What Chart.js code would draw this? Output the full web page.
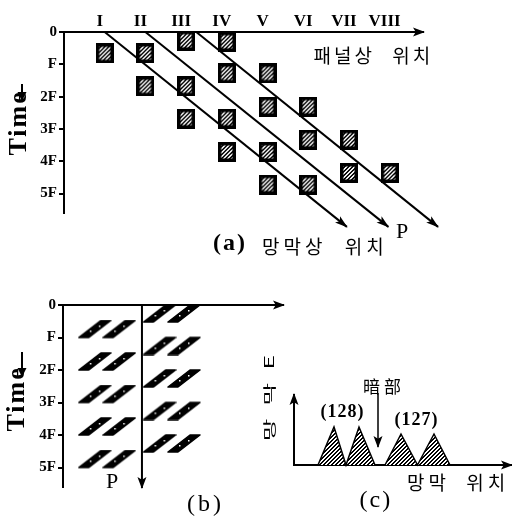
<!DOCTYPE html>
<html><head><meta charset="utf-8">
<script src="https://cdn.jsdelivr.net/npm/chart.js@4.4.0/dist/chart.umd.min.js"></script>
<style>
html,body{margin:0;padding:0;background:#fff;width:512px;height:521px;overflow:hidden;position:relative;}
canvas{position:absolute;}
svg{position:absolute;}
.t{position:absolute;white-space:nowrap;color:#000;line-height:1;}
</style></head><body>
<canvas id="ca" width="512" height="260" style="left:0;top:0"></canvas>
<canvas id="cb" width="300" height="251" style="left:0;top:270px"></canvas>
<canvas id="cc" width="262" height="191" style="left:250px;top:330px"></canvas>
<script>
// ---------- data ----------
const panelNames = ['I','II','III','IV','V','VI','VII','VIII'];
const panelPos = [1,2,3,4,5,6,7,8];
const frameNames = ['0','F','2F','3F','4F','5F'];
const framePos = [0,1,2,3,4,5];

// (a) lit cells: panel position / emission time (frames)
const cellPanel = [1, 2,2, 3,3,3, 4,4,4,4, 5,5,5,5, 6,6,6, 7,7, 8];
const cellTime  = [0.66, 0.65,1.68, 0.27,1.68,2.68, 0.30,1.28,2.68,3.71, 1.28,2.31,3.71,4.72, 2.31,3.33,4.72, 3.33,4.36, 4.36];

// (a) eye-tracking lines
const trackStartPanel = [1, 2, 3.25];
const trackStartTime  = [0, 0, 0];
const trackEndPanel   = [6.95, 7.97, 9.19];
const trackEndTime    = [6.03, 6.03, 6.03];

// (b) sub-field bars before / after retina point P
const beforePanel  = [1.3, 2.3];
const beforeFrames = [1,2,3,4,5];
const afterPanel   = [3.95, 4.95];
const afterFrames  = [0,1,2,3,4];
const retinaP      = 3.23;
const retinaPStart = 0;
const retinaPEnd   = 5.63;

// (c) retina luminance profile
const profilePos = [24, 40, 52, 65, 81, 91, 107, 123.5, 140, 156];
const profileVal = [0, 38, 0, 38, 0, 0, 31, 0, 31, 0];
const darkPos = [84, 84];
const darkVal = [72, 18];

// ---------- helpers ----------
function hatch(g){
  const c=document.createElement('canvas');c.width=4;c.height=4;
  const h=c.getContext('2d');
  h.fillStyle='#fff';h.fillRect(0,0,4,4);
  h.fillStyle='#000';
  for(let i=0;i<4;i++){h.fillRect(i,3-i,1,1);h.fillRect((i+1)%4,3-i,1,1);}
  return g.createPattern(c,'repeat');
}
function makeSquare(){
  const c=document.createElement('canvas');c.width=18;c.height=20;
  const g=c.getContext('2d');
  g.fillStyle='#000';g.fillRect(0,0,18,20);
  g.fillStyle=hatch(g);g.fillRect(3.5,3.5,11,13);
  return c;
}
function makeBar(upper){
  const c=document.createElement('canvas');c.width=34;c.height=36;
  const g=c.getContext('2d');
  const oy=upper?1:18;
  g.fillStyle='#000';g.strokeStyle='#000';g.lineWidth=1.5;g.lineJoin='round';
  g.beginPath();
  g.moveTo(1,oy+17);g.lineTo(11,oy+17);g.lineTo(33,oy);g.lineTo(23,oy);g.closePath();
  g.fill();g.stroke();
  g.fillStyle='#fff';
  g.fillRect(12,oy+10,1.5,1.5);g.fillRect(21,oy+5,1.5,1.5);
  return c;
}
function head(ctx,x0,y0,x1,y1,len,half,color){
  const ang=Math.atan2(y1-y0,x1-x0);
  ctx.save();ctx.translate(x1,y1);ctx.rotate(ang);
  ctx.beginPath();ctx.moveTo(1,0);ctx.lineTo(-len,-half);ctx.lineTo(-len*0.75,0);ctx.lineTo(-len,half);ctx.closePath();
  ctx.fillStyle=color||'#000';ctx.fill();ctx.restore();
}
const arrowPlugin={
  id:'arrows',
  afterDatasetsDraw(chart){
    const ctx=chart.ctx;
    chart.data.datasets.forEach((ds,i)=>{
      if(!ds.arrowHead)return;
      const pts=chart.getDatasetMeta(i).data;
      const a=pts[pts.length-2],b=pts[pts.length-1];
      head(ctx,a.x,a.y,b.x,b.y,ds.arrowHead.len,ds.arrowHead.half,'#000');
    });
  },
  afterDraw(chart,args,o){
    const a=chart.chartArea,ctx=chart.ctx;
    if(o.x){const y=o.x==='top'?a.top:a.bottom;head(ctx,a.right-10,y,a.right+1,y,11,4.5);}
    if(o.yUp){head(ctx,a.left,a.top+10,a.left,a.top-1,11,4.5);}
  }
};
const common={responsive:false,animation:false,events:[],devicePixelRatio:1};
const serif="'Liberation Serif','DejaVu Serif',serif";
Chart.defaults.color='#000';
Chart.defaults.font.family=serif;

function frameAxis(width){
  return {type:'linear',reverse:true,min:0,max:5.6,
    afterBuildTicks:s=>{s.ticks=framePos.map(v=>({value:v}));},
    afterFit:s=>{s.width=width;},
    ticks:{callback:v=>frameNames[framePos.indexOf(v)],font:{size:15,weight:'bold',family:serif},padding:2,autoSkip:false,color:'#000'},
    grid:{display:true,drawOnChartArea:false,drawTicks:true,tickLength:5,color:'#000',lineWidth:2},
    border:{display:true,color:'#000',width:2}};
}

// ---------- chart (a) ----------
const squareImg=makeSquare();
new Chart(document.getElementById('ca'),{
  type:'scatter',
  data:{datasets:[
    ...trackStartPanel.map((p,i)=>({type:'line',data:[{x:p,y:trackStartTime[i]},{x:trackEndPanel[i],y:trackEndTime[i]}],
      borderColor:'#000',borderWidth:2,pointRadius:0,clip:false,tension:0,arrowHead:{len:12,half:4}})),
    {data:cellPanel.map((p,i)=>({x:p,y:cellTime[i]})),pointStyle:squareImg,pointRadius:10,clip:false}
  ]},
  options:{...common,
    layout:{padding:{left:0,top:0,right:89,bottom:47}},
    plugins:{legend:{display:false},tooltip:{enabled:false},arrows:{x:'top'}},
    scales:{
      x:{type:'linear',position:'top',min:0,max:8.82,
        afterBuildTicks:s=>{s.ticks=panelPos.map(v=>({value:v}));},
        afterFit:s=>{s.height=32;},
        ticks:{callback:v=>panelNames[panelPos.indexOf(v)],font:{size:17,weight:'bold',family:serif},padding:0,labelOffset:-5,maxRotation:0,autoSkip:false,color:'#000'},
        grid:{display:true,drawOnChartArea:false,drawTicks:false},
        border:{display:true,color:'#000',width:2}},
      y:frameAxis(64)
    }},
  plugins:[arrowPlugin]
});

// ---------- chart (b) ----------
const barUp=makeBar(true), barDown=makeBar(false);
const beforePts=[], afterPts=[];
beforeFrames.forEach(f=>beforePanel.forEach(p=>beforePts.push({x:p,y:f})));
afterFrames.forEach(f=>afterPanel.forEach(p=>afterPts.push({x:p,y:f})));
new Chart(document.getElementById('cb'),{
  type:'scatter',
  data:{datasets:[
    {type:'line',data:[{x:retinaP,y:retinaPStart},{x:retinaP,y:retinaPEnd}],borderColor:'#000',borderWidth:2,pointRadius:0,clip:false,arrowHead:{len:11,half:4.5}},
    {data:beforePts,pointStyle:barUp,pointRadius:10,clip:false},
    {data:afterPts,pointStyle:barDown,pointRadius:10,clip:false}
  ]},
  options:{...common,
    layout:{padding:{left:0,top:0,right:17,bottom:34}},
    plugins:{legend:{display:false},tooltip:{enabled:false},arrows:{x:'top'}},
    scales:{
      x:{type:'linear',position:'top',min:0,max:9,afterFit:s=>{s.height=35;},
        ticks:{display:false},grid:{display:true,drawOnChartArea:false,drawTicks:false},
        border:{display:true,color:'#000',width:2}},
      y:frameAxis(63)
    }},
  plugins:[arrowPlugin]
});

// ---------- chart (c) ----------
const cc=document.getElementById('cc');
const triFill=hatch(cc.getContext('2d'));
new Chart(cc,{
  type:'scatter',
  data:{datasets:[
    {type:'line',data:darkPos.map((p,i)=>({x:p,y:darkVal[i]})),borderColor:'#000',borderWidth:1.5,pointRadius:0,clip:false,arrowHead:{len:11,half:4.5}},
    {type:'line',data:profilePos.map((p,i)=>({x:p,y:profileVal[i]})),borderColor:'#000',borderWidth:1.5,backgroundColor:triFill,fill:'origin',pointRadius:0,tension:0,clip:false}
  ]},
  options:{...common,
    layout:{padding:{left:44,top:65,right:1,bottom:56}},
    plugins:{legend:{display:false},tooltip:{enabled:false},arrows:{x:'bottom',yUp:true}},
    scales:{
      x:{type:'linear',position:'bottom',min:0,max:217,afterFit:s=>{s.height=0;},
        ticks:{display:false},grid:{display:true,drawOnChartArea:false,drawTicks:false},
        border:{display:true,color:'#000',width:2}},
      y:{type:'linear',min:0,max:70,afterFit:s=>{s.width=0;},
        ticks:{display:false},grid:{display:true,drawOnChartArea:false,drawTicks:false},
        border:{display:true,color:'#000',width:2}}
    }},
  plugins:[arrowPlugin]
});

// ---------- text ----------
function label(text,cx,cy,style,transform){
  const d=document.createElement('div');
  d.className='t';d.textContent=text;
  Object.assign(d.style,style);
  document.body.appendChild(d);
  const ls=parseFloat(style.letterSpacing||0)||0;
  const w=d.offsetWidth-ls,h=d.offsetHeight;
  d.style.left=(cx-w/2)+'px';d.style.top=(cy-h/2)+'px';
  if(transform){d.style.transformOrigin=(w/2)+'px '+(h/2)+'px';d.style.transform=transform;}
}
function downArrow(cx,top,bottom){
  const ns='http://www.w3.org/2000/svg';
  const s=document.createElementNS(ns,'svg');
  s.setAttribute('width','12');s.setAttribute('height',String(bottom-top+2));
  s.style.left=(cx-6)+'px';s.style.top=top+'px';
  const h=bottom-top;
  s.innerHTML='<line x1="6" y1="0" x2="6" y2="'+(h-5)+'" stroke="#000" stroke-width="2"/>'+
    '<polygon points="1.5,'+(h-9)+' 10.5,'+(h-9)+' 6,'+h+'" fill="#000"/>';
  document.body.appendChild(s);
}
const kr="'Noto Sans CJK KR','Noto Sans',sans-serif";
label('Time',17,124,{fontFamily:serif,fontWeight:'bold',fontSize:'26px',letterSpacing:'2px'},'rotate(-90deg)');
label('Time',15,400,{fontFamily:serif,fontWeight:'bold',fontSize:'26px',letterSpacing:'2px'},'rotate(-90deg)');
downArrow(22,84,101);
downArrow(22,352,377);
label('패널상 위치',372,54,{fontFamily:kr,fontSize:'19px',letterSpacing:'3px',wordSpacing:'10px'});
label('(a)',229,242,{fontFamily:serif,fontWeight:'bold',fontSize:'24px',letterSpacing:'2px'});
label('망막상 위치',323,245,{fontFamily:kr,fontSize:'19px',letterSpacing:'4px',wordSpacing:'10px'});
label('P',402,231,{fontFamily:serif,fontSize:'22px'});
label('P',112,481,{fontFamily:serif,fontSize:'22px'});
label('(b)',204,503,{fontFamily:serif,fontSize:'24px',letterSpacing:'3px'});
label('(c)',375,499,{fontFamily:serif,fontSize:'24px',letterSpacing:'2px'});
label('망막 위치',456,481,{fontFamily:kr,fontSize:'19px',letterSpacing:'4px',wordSpacing:'8px'});
label('(128)',342,411,{fontFamily:serif,fontWeight:'bold',fontSize:'18px',letterSpacing:'1px'});
label('(127)',416,419,{fontFamily:serif,fontWeight:'bold',fontSize:'18px',letterSpacing:'1px'});
label('暗部',382,385,{fontFamily:"'Noto Sans CJK SC',sans-serif",fontSize:'17px',letterSpacing:'4px'});
label('망 막 E',268,398,{fontFamily:kr,fontSize:'13px',letterSpacing:'2px'},'rotate(-90deg) scaleX(1.9)');
</script>
</body></html>
